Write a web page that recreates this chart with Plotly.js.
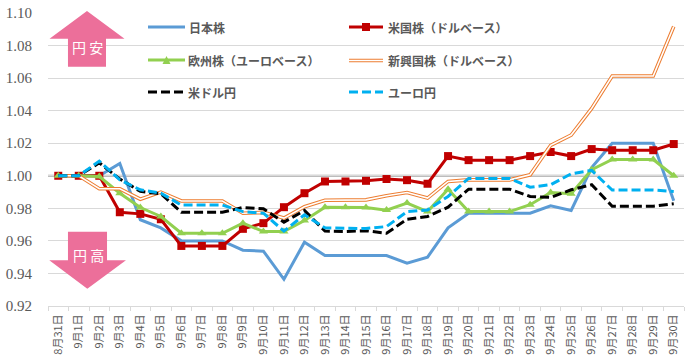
<!DOCTYPE html>
<html><head><meta charset="utf-8">
<script src="https://cdn.plot.ly/plotly-3.0.1.min.js"></script>
<style>html,body{margin:0;padding:0;background:#fff}#c{width:696px;height:360px}</style></head>
<body><div id="c"></div>
<script>
const dates = ["8月31日","9月1日","9月2日","9月3日","9月4日","9月5日","9月6日","9月7日","9月8日","9月9日","9月10日","9月11日","9月12日","9月13日","9月14日","9月15日","9月16日","9月17日","9月18日","9月19日","9月20日","9月21日","9月22日","9月23日","9月24日","9月25日","9月26日","9月27日","9月28日","9月29日","9月30日"];
const japan = [1,1,1,1.0075,0.973,0.968,0.96,0.96,0.96,0.9543,0.9537,0.9364,0.9592,0.951,0.951,0.951,0.951,0.9463,0.95,0.968,0.977,0.977,0.977,0.977,0.9815,0.9787,1.005,1.02,1.02,1.02,0.9846];
const us = [1,1,1,0.9776,0.9766,0.9733,0.9569,0.9569,0.9569,0.9674,0.9709,0.9807,0.9893,0.9965,0.9965,0.9969,0.998,0.9973,0.9951,1.0121,1.0096,1.0096,1.0096,1.0121,1.0146,1.0121,1.0164,1.0157,1.0157,1.0157,1.0195];
const europe = [1,1,0.9995,0.9893,0.9805,0.975,0.9647,0.9647,0.9647,0.9709,0.9657,0.9657,0.9725,0.9807,0.9807,0.9805,0.9789,0.9832,0.978,0.9918,0.978,0.978,0.978,0.9822,0.9897,0.989,1.0037,1.01,1.01,1.01,1.0];
const emerging = [1,1,0.992,0.992,0.9856,0.99,0.9845,0.9845,0.9845,0.977,0.9775,0.974,0.981,0.985,0.985,0.9852,0.9877,0.9897,0.9863,0.9965,0.9975,0.9975,0.9975,1.0006,1.0187,1.025,1.0414,1.0613,1.0613,1.0613,1.0917];
const usdjpy = [1,1,1.008,0.998,0.9904,0.989,0.9776,0.9776,0.9776,0.9805,0.9797,0.9715,0.9787,0.966,0.9658,0.9662,0.9647,0.9733,0.975,0.9807,0.9918,0.9918,0.9918,0.9873,0.9867,0.9914,0.9945,0.9813,0.9813,0.9813,0.9828];
const eurjpy = [1,1,1.009,0.9975,0.9914,0.9893,0.982,0.982,0.982,0.978,0.977,0.966,0.976,0.968,0.9676,0.9676,0.9688,0.978,0.979,0.9873,0.9984,0.9984,0.9984,0.993,0.9945,1.0012,1.0033,0.9912,0.9912,0.9912,0.9904];
const yTicks = [0.92,0.94,0.96,0.98,1.00,1.02,1.04,1.06,1.08,1.10];
const legendLabels = ["日本株","米国株（ドルベース）","欧州株（ユーロベース）","新興国株（ドルベース）","米ドル円","ユーロ円"];
const arrowLabels = ["円 安","円 高"];

const W=696,H=360,L=48,R=684,T=13,B=306;
const px=x=>(x-L)/(R-L), py=y=>(B-y)/(B-T);
const C={jp:"#5B9BD5",us:"#C00000",eu:"#92D050",em:"#ED7D31",bk:"#000000",cy:"#00B0F0"};
const DASH="9px,4px";
const line=(y,color,width,extra={},name)=>Object.assign({x:dates,y:y,type:"scatter",mode:"lines",name:name,hoverinfo:"skip",showlegend:false,line:{color:color,width:width}},extra);
const traces=[
 line(japan,C.jp,3,{},legendLabels[0]),
 line(us,C.us,3,{mode:"lines+markers",marker:{symbol:"square",size:8,color:C.us}},legendLabels[1]),
 line(europe,C.eu,3,{mode:"lines+markers",marker:{symbol:"triangle-up",size:8,color:C.eu}},legendLabels[2]),
 line(emerging,C.em,3.6,{},legendLabels[3]),
 line(emerging,"#FFFFFF",1.6,{},legendLabels[3]),
 line(usdjpy,C.bk,3,{line:{color:C.bk,width:3,dash:DASH}},legendLabels[4]),
 line(eurjpy,C.cy,3,{line:{color:C.cy,width:3,dash:DASH}},legendLabels[5])
];
const pathOf=pts=>"M"+pts.map(p=>px(p[0]).toFixed(4)+","+py(p[1]).toFixed(4)).join("L")+"Z";
const pshape=(pts,color)=>({type:"path",xref:"paper",yref:"paper",path:pathOf(pts),fillcolor:color,line:{width:0},layer:"above"});
const hseg=(x0,x1,y,color,width,dash)=>({type:"line",xref:"paper",yref:"paper",x0:px(x0),x1:px(x1),y0:py(y),y1:py(y),line:{color:color,width:width,dash:dash||"solid"},layer:"above"});
const PINK="#EC6F9A";
const keyA=[148,185], keyB=[349,383], rows=[27,60,92];
const shapes=[
 {type:"line",xref:"x",yref:"y",x0:-0.5,x1:30.5,y0:1,y1:1,line:{color:"#A6A6A6",width:2},layer:"below"},
 pshape([[87,11],[124.5,38.7],[106,38.7],[106,66.7],[68,66.7],[68,38.7],[49.5,38.7]],PINK),
 pshape([[68,231.7],[107,231.7],[107,260.3],[126,260.3],[87.3,288.7],[49.3,260.3],[68,260.3]],PINK),
 hseg(keyA[0],keyA[1],rows[0],C.jp,3),
 hseg(keyB[0],keyB[1],rows[0],C.us,3),
 pshape([[362,23],[370,23],[370,31],[362,31]],C.us),
 hseg(keyA[0],keyA[1],rows[1],C.eu,3),
 pshape([[166.5,56],[170.5,64],[162.5,64]],C.eu),
 hseg(keyB[0],keyB[1],rows[1]+0.5,C.em,3.6),
 hseg(keyB[0],keyB[1],rows[1]+0.5,"#FFFFFF",1.6),
 hseg(keyA[0],keyA[1],rows[2],C.bk,3,DASH),
 hseg(keyB[0],keyB[1],rows[2],C.cy,3,DASH)
];
const legText=(t,x,y)=>({text:t,xref:"paper",yref:"paper",x:px(x),y:py(y),xanchor:"left",yanchor:"middle",showarrow:false,font:{family:"'Noto Sans CJK JP'",size:12,color:"#595959",weight:700}});
const arrowText=(t,x,y)=>({text:t,xref:"paper",yref:"paper",x:px(x),y:py(y),xanchor:"center",yanchor:"middle",showarrow:false,font:{family:"'Noto Sans CJK JP'",size:14,color:"#FFFFFF"}});
const annotations=[
 legText(legendLabels[0],187,rows[0]),
 legText(legendLabels[1],386,rows[0]),
 legText(legendLabels[2],186,rows[1]),
 legText(legendLabels[3],386,rows[1]),
 legText(legendLabels[4],186,rows[2]),
 legText(legendLabels[5],386,rows[2]),
 arrowText(arrowLabels[0],87.5,47),
 arrowText(arrowLabels[1],88,255)
];
const layout={width:W,height:H,margin:{l:L,r:W-R,t:T,b:H-B,pad:0},paper_bgcolor:"#fff",plot_bgcolor:"#fff",showlegend:false,
 xaxis:{type:"category",range:[-0.5,30.5],tickmode:"array",tickvals:dates,ticktext:dates,tickangle:-90,tickson:"boundaries",ticks:"outside",ticklen:4,tickcolor:"#D9D9D9",showgrid:false,showline:true,linecolor:"#D9D9D9",linewidth:1,ticklabelstandoff:3,tickfont:{family:"'Noto Sans CJK JP'",size:11,color:"#595959"},automargin:false},
 yaxis:{range:[0.92,1.10],tickmode:"array",tickvals:yTicks,ticktext:yTicks.map(v=>v.toFixed(2)),ticks:"",ticklabelstandoff:15,showgrid:true,gridcolor:"#D9D9D9",gridwidth:1,zeroline:false,showline:false,tickfont:{family:"'Liberation Serif'",size:15,color:"#595959"},automargin:false},
 shapes:shapes,annotations:annotations};
Plotly.newPlot("c",traces,layout,{staticPlot:true,displayModeBar:false});
</script></body></html>
